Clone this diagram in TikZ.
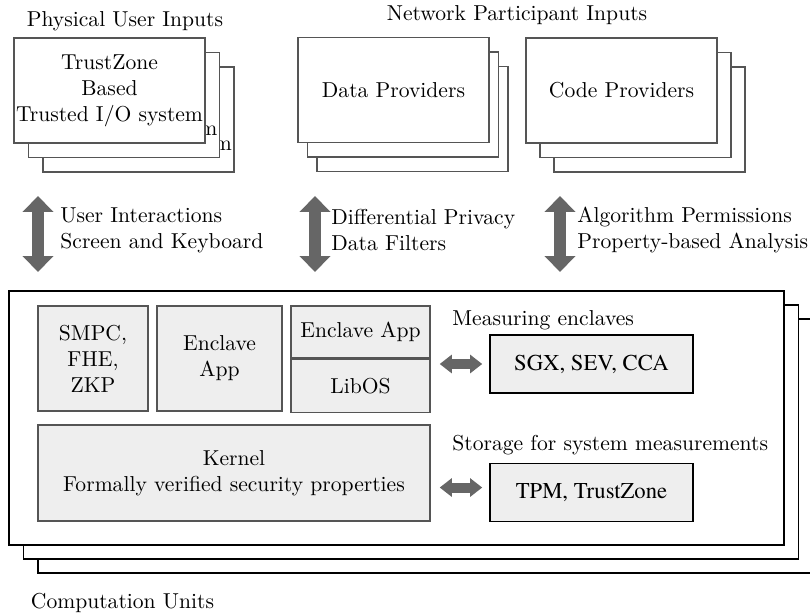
\documentclass[tikz,border=0pt]{standalone}
\usepackage{fontspec}
\usetikzlibrary{arrows.meta,positioning}
\newfontfamily\platfont[Ligatures=TeX]{texgyretermes-regular.otf}
\definecolor{arrowg}{HTML}{666666}
\definecolor{boxg}{HTML}{EEEEEE}
\definecolor{lineg}{HTML}{555555}
\newcommand{\pxu}{0.463pt}
\tikzset{
	stackbox/.style={draw=lineg, semithick, fill=white, inner sep=0pt, align=center, minimum width=191*\pxu, minimum height=105*\pxu},
	unitbox/.style={draw=black, thick, fill=white, minimum width=775*\pxu, minimum height=254*\pxu},
	innerbox/.style={draw=lineg, semithick, fill=boxg, inner sep=0pt, align=center},
	platbox/.style={draw=black, thick, fill=boxg, inner sep=0pt, font={\platfont\fontsize{10.5}{12}\selectfont}, minimum width=203*\pxu, minimum height=58*\pxu},
	bigarrow/.style={draw=arrowg, line width=5.1pt, {Triangle[width=13.9pt,length=7.4pt]}-{Triangle[width=13.9pt,length=7.4pt]}},
	sidearrow/.style={draw=arrowg, line width=4.6pt, {Triangle[width=8.3pt,length=5.6pt]}-{Triangle[width=8.3pt,length=5.6pt]}},
	arrowtext/.style={anchor=west, inner sep=0pt, align=left}
}

\begin{document}
\begin{tikzpicture}[x=0.463pt, y=-0.463pt]
		\useasboundingbox (0,0) rectangle (810,615);
		%
		% inputs
		\node (physlabel) at (125,21) {Physical User Inputs};
		\node (netlabel) at (517,15) {Network Participant Inputs};
		\foreach \i in {2,1,0}
			\node[stackbox] (phys\i) at (109.5+14.5*\i,90.5+14.5*\i) {TrustZone\\Based\\Trusted I/O system};
		\foreach \i in {2,1,0}
			\node[stackbox] (data\i) at (393.5+9.5*\i,90+14.5*\i) {Data Providers};
		\foreach \i in {2,1,0}
			\node[stackbox] (code\i) at (621.5+14*\i,90.5+14.5*\i) {Code Providers};
		%
		% interfaces
		\coordinate (uitop) at (38,196);
		\coordinate (uibot) at (38,272);
		\coordinate (dptop) at (315,196);
		\coordinate (dpbot) at (315,272);
		\coordinate (aptop) at (560,196);
		\coordinate (apbot) at (560,272);
		\draw[bigarrow] (uitop) -- (uibot);
		\draw[bigarrow] (dptop) -- (dpbot);
		\draw[bigarrow] (aptop) -- (apbot);
		\node[arrowtext] (uitext) at (60,230) {User Interactions\\Screen and Keyboard};
		\node[arrowtext] (dptext) at (331,230) {Differential Privacy\\Data Filters};
		\node[arrowtext] (aptext) at (577,230) {Algorithm Permissions\\Property-based Analysis};
		%
		% computation units
		\foreach \i in {2,1,0}
			\node[unitbox] (unit\i) at (396.5+14.5*\i,418+14*\i) {};
		\node (unitlabel) at (122.5,603) {Computation Units};
		%
		\node[innerbox, minimum width=110*\pxu, minimum height=105*\pxu] (smpc) at (93,358.5) {SMPC,\\FHE,\\ZKP};
		\node[innerbox, minimum width=125*\pxu, minimum height=105*\pxu] (encl) at (219.5,358.5) {Enclave\\App};
		\node[innerbox, minimum width=139*\pxu, minimum height=52*\pxu] (encapp) at (360.5,332) {Enclave App};
		\node[innerbox, minimum width=139*\pxu, minimum height=53*\pxu, below=0pt of encapp] (libos) {LibOS};
		\node[innerbox, minimum width=392*\pxu, minimum height=96*\pxu] (kernel) at (234,473) {Kernel\\Formally verified security properties};
		%
		% measurement hardware
		\node[anchor=west, inner sep=0pt] (measlabel) at (452,320) {Measuring enclaves};
		\node[platbox] (sgx) at (591.5,364) {SGX, SEV, CCA};
		\node[anchor=west, inner sep=0pt] (storlabel) at (452,445) {Storage for system measurements};
		\node[platbox] (tpm) at (591.5,492.5) {TPM, TrustZone};
		\draw[sidearrow, shorten <=4.2pt, shorten >=3.2pt] (sgx.west -| libos.east) -- (sgx.west);
		\draw[sidearrow, shorten <=4.2pt, shorten >=3.2pt] ([yshift=2.3pt]tpm.west -| kernel.east) -- ([yshift=2.3pt]tpm.west);
	\end{tikzpicture}
\end{document}
